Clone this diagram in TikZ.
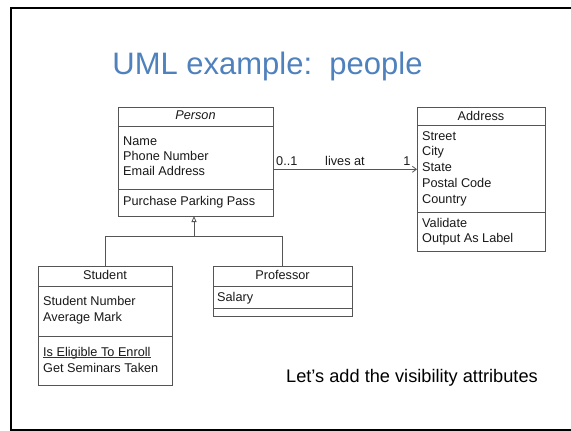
\documentclass[tikz,border=0pt]{standalone}
\usepackage{fontspec}
\setmainfont{Liberation Sans}
\usetikzlibrary{arrows.meta}
\definecolor{titleblue}{RGB}{79,129,189}
\definecolor{boxline}{RGB}{85,85,85}
\begin{document}
\begin{tikzpicture}[x=1pt,y=-1pt,
  cls/.style={draw=boxline, line width=0.8pt, inner sep=0pt, outer sep=0pt},
  divider/.style={draw=boxline, line width=0.8pt},
  txt/.style={anchor=base west, inner sep=0pt, font=\fontsize{12.7}{15}\selectfont, text=black!90},
  ctxt/.style={anchor=base, inner sep=0pt, font=\fontsize{12.7}{15}\selectfont, text=black!90},
  conn/.style={draw=boxline, line width=0.8pt}
]
\useasboundingbox (0,0) rectangle (571,431);
\fill[white] (0,0) rectangle (571,431);
% frame
\draw[line width=2pt] (580,8) -- (11,8) -- (11,430) -- (580,430);
% title
\node[anchor=base, inner sep=0pt, text=titleblue, font=\fontsize{31}{36}\selectfont] (title) at (267.5,74) {UML example:\ \ people};

% Person
\node[cls, minimum width=155pt, minimum height=109pt] (person) at (195.5,161.5) {};
\draw[divider] (118,126) -- (273,126);
\draw[divider] (118,189) -- (273,189);
\node[ctxt, font=\fontsize{12.7}{15}\selectfont\itshape] (personname) at (195.5,119) {Person};
\node[txt] (pa1) at (123,145) {Name};
\node[txt] (pa2) at (123,160) {Phone Number};
\node[txt] (pa3) at (123,175) {Email Address};
\node[txt] (pm1) at (123,205) {Purchase Parking Pass};

% Address
\node[cls, minimum width=128pt, minimum height=144pt] (address) at (481,179) {};
\draw[divider] (417,125) -- (545,125);
\draw[divider] (417,212) -- (545,212);
\node[ctxt] (addrname) at (481,120) {Address};
\node[txt] (aa1) at (422,140) {Street};
\node[txt] (aa2) at (422,155.5) {City};
\node[txt] (aa3) at (422,171.5) {State};
\node[txt] (aa4) at (422,187) {Postal Code};
\node[txt] (aa5) at (422,203) {Country};
\node[txt] (am1) at (422,227) {Validate};
\node[txt] (am2) at (422,242) {Output As Label};

% Student
\node[cls, minimum width=134pt, minimum height=119pt] (student) at (105,325.5) {};
\draw[divider] (38,286) -- (172,286);
\draw[divider] (38,336) -- (172,336);
\node[ctxt] (studname) at (105,279) {Student};
\node[txt] (sa1) at (43,305) {Student Number};
\node[txt] (sa2) at (43,321) {Average Mark};
\node[txt] (sm1) at (43,356) {Is Eligible To Enroll};
\draw[line width=0.7pt, black!80] (sm1.base west) ++(0,1.8) -- ([yshift=-1.8pt]sm1.base east);
\node[txt] (sm2) at (43,372) {Get Seminars Taken};

% Professor
\node[cls, minimum width=139pt, minimum height=50pt] (professor) at (282.5,291) {};
\draw[divider] (213,286) -- (352,286);
\draw[divider] (213,308) -- (352,308);
\node[ctxt] (profname) at (282.5,279) {Professor};
\node[txt] (pra1) at (217,301) {Salary};

% generalization
\coordinate (j) at (194,236);
\draw[conn] (student.north) -- (student.north |- j) -- (professor.north |- j) -- (professor.north);
\draw[conn, -{Triangle[open, length=6pt, width=5pt]}] (j) -- (j |- person.south);

% association
\coordinate (as) at (273,169.3);
\coordinate (ae) at (417,169.3);
\draw[conn, -{Straight Barb[length=4pt, width=6pt]}] (as) -- (ae);
\node[txt] (m1) at (276,165) {0..1};
\node[ctxt] (lbl) at (345,165) {lives at};
\node[ctxt] (m2) at (407,165) {1};

% note
\node[anchor=base west, inner sep=0pt, font=\fontsize{18.2}{21}\selectfont] (note) at (286,382) {Let’s add the visibility attributes};
\end{tikzpicture}
\end{document}
